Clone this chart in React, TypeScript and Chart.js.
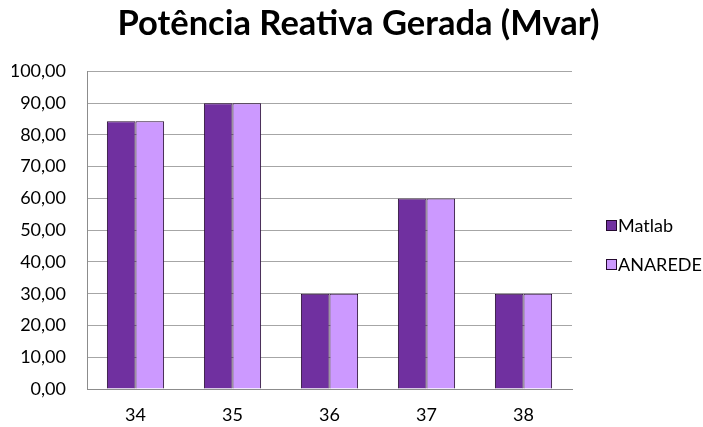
import React, { useEffect, useRef } from "react";
import { Chart, registerables } from "chart.js";

Chart.register(...registerables);

const categories = ["34", "35", "36", "37", "38"];
const matlab = [84.3, 90.0, 30.0, 60.0, 30.0];
const anarede = [84.3, 90.0, 30.0, 60.0, 30.0];
const yTicks = [0, 10, 20, 30, 40, 50, 60, 70, 80, 90, 100];

const FONT = "Lato, Open Sans, sans-serif";

const sideLegend = {
  id: "sideLegend",
  afterLayout(chart: any) {
    const t = chart.titleBlock;
    if (t) {
      t.left = 14;
      t.right = chart.width;
      t.width = chart.width - 14;
    }
  },
  afterDraw(chart: any) {
    const ctx = chart.ctx;
    const items = chart.data.datasets;
    const boxX = 606;
    const textX = 618;
    const startY = 225;
    const step = 39;
    ctx.save();
    ctx.font = `18px ${FONT}`;
    ctx.textBaseline = "middle";
    ctx.textAlign = "left";
    items.forEach((ds: any, i: number) => {
      const cy = startY + i * step;
      ctx.fillStyle = ds.backgroundColor;
      ctx.fillRect(boxX, cy - 5, 10, 10);
      ctx.strokeStyle = ds.borderColor;
      ctx.lineWidth = 1;
      ctx.strokeRect(boxX + 0.5, cy - 4.5, 10, 10);
      ctx.fillStyle = "#000";
      ctx.fillText(ds.label, textX, cy + 1);
    });
    ctx.restore();
  },
};

export default function App() {
  const ref = useRef<HTMLCanvasElement>(null);
  useEffect(() => {
    document.body.style.margin = "0";
    const chart = new Chart(ref.current!, {
      type: "bar",
      data: {
        labels: categories,
        datasets: [
          {
            label: "Matlab",
            data: matlab,
            backgroundColor: "#7030A0",
            borderColor: "#24092F",
            borderWidth: 1,
          },
          {
            label: "ANAREDE",
            data: anarede,
            backgroundColor: "#CC99FF",
            borderColor: "#24092F",
            borderWidth: 1,
          },
        ],
      },
      plugins: [sideLegend],
      options: {
        animation: false,
        responsive: false,
        layout: { padding: { left: 12, right: 131, top: 0, bottom: 0 } },
        datasets: { bar: { barPercentage: 1, categoryPercentage: 0.59 } },
        plugins: {
          title: {
            display: true,
            text: "Potência Reativa Gerada (Mvar)",
            color: "#000",
            font: { family: FONT, size: 34.5, weight: "bold" },
            padding: { top: 3, bottom: 27 },
          },
          legend: { display: false },
          tooltip: { enabled: false },
        },
        scales: {
          x: {
            grid: { display: false, drawTicks: false },
            border: { color: "#8c8c8c" },
            ticks: { color: "#000", font: { family: FONT, size: 18 }, padding: 15 },
            afterFit: (axis: any) => {
              axis.height = 38;
            },
          },
          y: {
            min: 0,
            max: 100,
            afterBuildTicks: (axis: any) => {
              axis.ticks = yTicks.map((v) => ({ value: v }));
            },
            afterFit: (axis: any) => {
              axis.width = 75;
            },
            grid: { color: "#a6a6a6", drawTicks: false },
            border: { color: "#8c8c8c" },
            ticks: {
              color: "#000",
              font: { family: FONT, size: 18 },
              padding: 21,
              callback: (v: any) => Number(v).toFixed(2).replace(".", ","),
            },
          },
        },
      },
    });
    return () => chart.destroy();
  }, []);
  return (
    <div style={{ position: "fixed", left: 0, top: 0, width: 703, height: 427, background: "#fff" }}>
      <canvas ref={ref} width={703} height={427} />
    </div>
  );
}
